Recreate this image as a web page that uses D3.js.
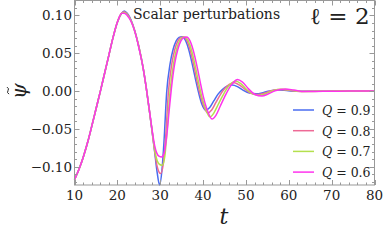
<!DOCTYPE html>
<html>
<head>
<meta charset="utf-8">
<script src="https://cdn.jsdelivr.net/npm/d3@7"></script>
<style>
  body { margin: 0; background: #fff; }
</style>
</head>
<body>
<div id="chart"></div>
<script>
// legend labels and colours
const labels = ["Q = 0.9", "Q = 0.8", "Q = 0.7", "Q = 0.6"];
const colors = ["#4a6cf0", "#ee6a96", "#b4e04e", "#ff33ee"];

const xTicks = [10, 20, 30, 40, 50, 60, 70, 80];
const yTicks = [-0.10, -0.05, 0.00, 0.05, 0.10];

// the initial pulse is the same for every Q
const rise = [[10,-0.117],[11,-0.104],[12,-0.088],[13,-0.069],[14,-0.047],[15,-0.024],
  [16,-0.001],[17,0.023],[18,0.047],[19,0.071],[20,0.091],[21,0.103]];

const q09 = [...rise, [21.6,0.106],[22.3,0.103],[23.2,0.094],[24,0.081],[25,0.059],[26,0.031],
  [26.8,0.002],[27.5,-0.027],[28.1,-0.053],[28.7,-0.080],[29.3,-0.108],[29.85,-0.124],[30.4,-0.105],
  [30.9,-0.065],[31.5,-0.002],[32.3,0.036],[33,0.055],[33.7,0.066],[34.4,0.071],[35.1,0.072],
  [35.9,0.067],[36.7,0.054],[37.5,0.035],[38.3,0.014],[39,-0.003],[39.7,-0.017],[40.6,-0.025],
  [41.5,-0.022],[42.5,-0.013],[43.5,-0.004],[44.5,0.002],[45.6,0.0065],[46.8,0.008],[48,0.006],
  [49.4,0.001],[50.8,-0.0025],[52.4,-0.0035],[54,-0.002],[55.5,0.0003],[57.5,0.0015],[59.5,0.0008],
  [62,-0.0003],[66,-0.0002],[72,0],[80,0]];

const q08 = [...rise, [21.6,0.105],[22.3,0.102],[23.2,0.093],[24,0.081],[25,0.059],[26,0.031],
  [26.8,0.002],[27.5,-0.027],[28.1,-0.053],[28.7,-0.079],[29.3,-0.100],[30.1,-0.109],[30.7,-0.097],
  [31.3,-0.058],[31.9,-0.002],[32.7,0.036],[33.4,0.055],[34.1,0.066],[34.8,0.071],[35.5,0.0715],
  [36.2,0.067],[37,0.054],[37.8,0.035],[38.6,0.013],[39.3,-0.004],[40.1,-0.019],[41.1,-0.029],
  [42,-0.025],[43,-0.015],[44,-0.005],[45,0.003],[46.1,0.009],[47.3,0.011],[48.5,0.008],
  [49.9,0.002],[51.2,-0.003],[52.8,-0.0045],[54.4,-0.0025],[55.9,0.0004],[58,0.002],[60,0.001],
  [62.5,-0.0004],[66,-0.0002],[72,0],[80,0]];

const q07 = [...rise, [21.6,0.104],[22.3,0.101],[23.2,0.093],[24,0.080],[25,0.059],[26,0.031],
  [26.8,0.002],[27.5,-0.027],[28.1,-0.052],[28.7,-0.077],[29.3,-0.092],[29.9,-0.097],[30.5,-0.098],
  [31.1,-0.085],[31.7,-0.045],[32.3,0.000],[33.1,0.036],[33.8,0.055],[34.5,0.066],[35.2,0.071],
  [35.8,0.0715],[36.5,0.067],[37.3,0.054],[38.1,0.035],[38.9,0.013],[39.6,-0.005],[40.5,-0.022],
  [41.6,-0.034],[42.5,-0.029],[43.5,-0.018],[44.5,-0.007],[45.5,0.003],[46.5,0.010],[47.6,0.0135],
  [48.8,0.010],[50.2,0.002],[51.7,-0.004],[53.2,-0.0055],[54.8,-0.003],[56.3,0.0005],[58.5,0.0024],
  [60.5,0.0012],[63,-0.0005],[67,-0.0002],[72,0],[80,0]];

const q06 = [...rise, [21.6,0.103],[22.3,0.100],[23.2,0.092],[24,0.080],[25,0.058],[26,0.031],
  [26.8,0.002],[27.5,-0.026],[28.1,-0.051],[28.7,-0.072],[29.2,-0.082],[29.7,-0.086],[30.3,-0.087],
  [30.9,-0.082],[31.5,-0.060],[32.1,-0.025],[32.6,0.003],[33.4,0.037],[34.1,0.055],[34.8,0.066],
  [35.5,0.071],[36.2,0.0715],[36.9,0.067],[37.7,0.054],[38.5,0.035],[39.3,0.013],[40,-0.006],
  [40.9,-0.024],[42.1,-0.037],[43,-0.032],[44,-0.020],[45,-0.008],[46,0.003],[47,0.011],[48,0.0154],
  [49.2,0.012],[50.6,0.003],[52.1,-0.0045],[53.7,-0.0065],[55.3,-0.0035],[56.8,0.0005],[59.2,0.0028],
  [61.2,0.0014],[63.7,-0.0006],[68,-0.0002],[74,0],[80,0]];

const series = [q09, q08, q07, q06];

const width = 383, height = 240;
const plot = { left: 74.5, right: 374.5, top: 0.5, bottom: 185 };
const serif = "DejaVu Serif";

const svg = d3.select("#chart").append("svg")
  .attr("width", width).attr("height", height);

const x = d3.scaleLinear().domain([10, 80]).range([plot.left, plot.right]);
const y = d3.scaleLinear().domain([-0.1241, 0.1198]).range([plot.bottom, plot.top]);

// curves (first series underneath)
const line = d3.line().x(d => x(d[0])).y(d => y(d[1])).curve(d3.curveMonotoneX);
svg.append("g").selectAll("path")
  .data(series).enter().append("path")
  .attr("d", line)
  .attr("fill", "none")
  .attr("stroke", (d, i) => colors[i])
  .attr("stroke-width", 1.5);

// frame + inward ticks on all sides
const frameCol = "#999";
svg.append("rect")
  .attr("x", plot.left).attr("y", plot.top)
  .attr("width", plot.right - plot.left).attr("height", plot.bottom - plot.top)
  .attr("fill", "none").attr("stroke", frameCol).attr("stroke-width", 1);

const xMinor = d3.range(10, 80.01, 2);
const yMinor = d3.range(-0.12, 0.1201, 0.01);
const tk = svg.append("g").attr("stroke", frameCol).attr("stroke-width", 1);
xMinor.forEach(v => {
  const major = xTicks.includes(Math.round(v));
  const L = major ? 5 : 2.5, px = Math.round(x(v)) + 0.5;
  tk.append("line").attr("x1", px).attr("x2", px).attr("y1", plot.bottom).attr("y2", plot.bottom - L);
  tk.append("line").attr("x1", px).attr("x2", px).attr("y1", plot.top).attr("y2", plot.top + L);
});
yMinor.forEach(v => {
  if (v < -0.1241 || v > 0.1198) return;
  const major = yTicks.some(t => Math.abs(t - v) < 1e-6);
  const L = major ? 5 : 2.5, py = Math.round(y(v)) + 0.5;
  tk.append("line").attr("y1", py).attr("y2", py).attr("x1", plot.left).attr("x2", plot.left + L);
  tk.append("line").attr("y1", py).attr("y2", py).attr("x1", plot.right).attr("x2", plot.right - L);
});

// tick labels
svg.append("g").selectAll("text").data(xTicks).enter().append("text")
  .attr("x", d => x(d)).attr("y", 200)
  .attr("text-anchor", "middle").attr("font-family", serif).attr("font-size", 13.5).attr("fill", "#222")
  .text(d => d);
svg.append("g").selectAll("text").data(yTicks).enter().append("text")
  .attr("x", 72).attr("y", d => y(d) + 5)
  .attr("text-anchor", "end").attr("font-family", serif).attr("font-size", 13.5).attr("fill", "#222")
  .text(d => (d < 0 ? "\u2212" : "") + Math.abs(d).toFixed(2));

// axis labels
svg.append("text").attr("x", 224).attr("y", 224)
  .attr("text-anchor", "middle").attr("font-family", serif).attr("font-size", 22)
  .attr("font-style", "italic").attr("fill", "#222")
  .text("t");
const yl = svg.append("g").attr("transform", `translate(26,${y(0)}) rotate(-90)`);
yl.append("text").attr("text-anchor", "middle").attr("y", 0)
  .attr("font-family", serif).attr("font-size", 20).attr("font-style", "italic").attr("fill", "#222")
  .text("\u03C8");
yl.append("path")
  .attr("d", "M-3,-17 q1.5,-2.5 3.5,-1 t3.5,-1")
  .attr("fill", "none").attr("stroke", "#222").attr("stroke-width", 1);

// annotations
svg.append("text").attr("x", 133).attr("y", 19)
  .attr("font-family", serif).attr("font-size", 14).attr("fill", "#222")
  .text("Scalar perturbations");
const ell = svg.append("text").attr("x", 310).attr("y", 24)
  .attr("font-family", serif).attr("font-size", 23).attr("fill", "#222");
ell.append("tspan").text("\u2113");
ell.append("tspan").text(" = 2");

// legend
const lg = svg.append("g").selectAll("g").data(labels).enter().append("g")
  .attr("transform", (d, i) => `translate(0,${110 + i * 20.7})`);
lg.append("line").attr("x1", 293).attr("x2", 314).attr("y1", 0).attr("y2", 0)
  .attr("stroke", (d, i) => colors[i]).attr("stroke-width", 1.5);
const lt = lg.append("text").attr("x", 322).attr("y", 5)
  .attr("font-family", serif).attr("font-size", 12.5).attr("fill", "#222");
lt.append("tspan").attr("font-style", "italic").text("Q");
lt.append("tspan").text(d => " = " + d.split("= ")[1]);
</script>
</body>
</html>
